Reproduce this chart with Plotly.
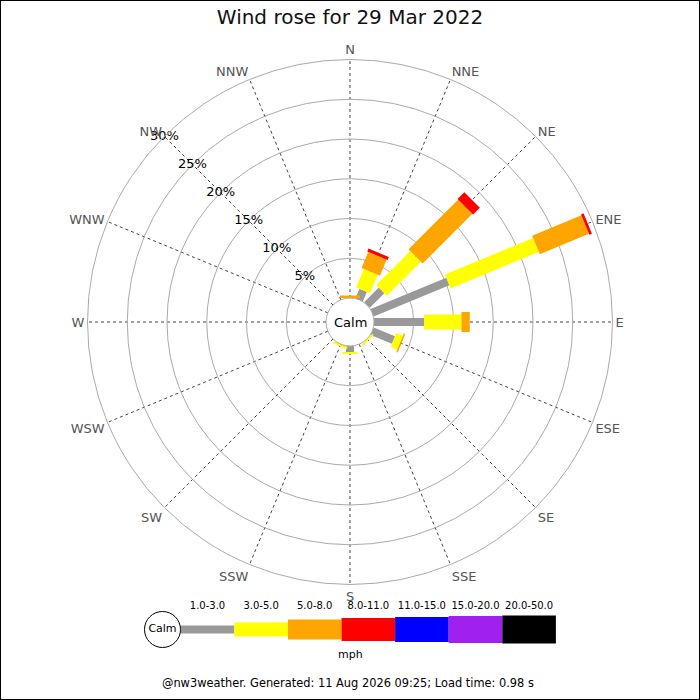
import math
import plotly.graph_objects as go

# --- data (percent of time per direction and speed band) ---
directions = ["N", "NNE", "NE", "ENE", "E", "ESE", "SE", "SSE",
              "S", "SSW", "SW", "WSW", "W", "WNW", "NW", "NNW"]
speed_bins = ["1.0-3.0", "3.0-5.0", "5.0-8.0", "8.0-11.0",
              "11.0-15.0", "15.0-20.0", "20.0-50.0"]
pct_1_3 = [0, 1.3, 2.6, 10.3, 6.3, 2.9, 0, 0, 0.75, 0, 0, 0, 0, 0, 0, 0]
pct_3_5 = [0, 2.5, 6.05, 12.0, 4.7, 0.9, 0.25, 0, 0.25, 0.25, 0, 0, 0, 0, 0, 0]
pct_5_8 = [0.3, 2.2, 8.85, 6.7, 1.05, 0.2, 0, 0, 0, 0, 0, 0, 0, 0, 0, 0]
pct_8_11 = [0, 0.4, 1.2, 0.35, 0, 0, 0, 0, 0, 0, 0, 0, 0, 0, 0, 0]
pct_11_15 = [0] * 16
pct_15_20 = [0] * 16
pct_20_50 = [0] * 16
radial_ticks = [5, 10, 15, 20, 25, 30]
radial_labels = ["5%", "10%", "15%", "20%", "25%", "30%"]

series = [pct_1_3, pct_3_5, pct_5_8, pct_8_11, pct_11_15, pct_15_20, pct_20_50]
colors = ["#999999", "#ffff00", "#ffa500", "#ff0000", "#0000ff", "#a020f0", "#000000"]
widths = [8, 15, 20, 22, 25, 27, 28]       # bar thickness in the rose (px)
key_widths = [8, 14, 20, 23, 25, 27, 28]   # bar thickness in the key (px)

# --- geometry of the rose (px) ---
W = H = 700
CX, CY = 350, 322
R_PX = 262.5
HOLE_PX = 24
R_MAX = 30
K = (R_PX - HOLE_PX) / R_MAX   # px per percent
angles = [i * 22.5 for i in range(16)]


def to_r(px):
    return (px - HOLE_PX) / K


fig = go.Figure()

# stacked rectangular bars, drawn per speed band
cum = [0.0] * 16
for s, vals in enumerate(series):
    rr, tt = [], []
    h = widths[s] / 2
    for i, v in enumerate(vals):
        if v > 0:
            d0 = HOLE_PX + cum[i] * K
            d1 = HOLE_PX + (cum[i] + v) * K
            for d, y in [(d0, -h), (d1, -h), (d1, h), (d0, h), (d0, -h)]:
                rr.append(to_r(math.hypot(d, y)))
                tt.append(angles[i] + math.degrees(math.atan2(y, d)))
            rr.append(None)
            tt.append(None)
        cum[i] += v
    if rr:
        fig.add_trace(go.Scatterpolar(
            r=rr, theta=tt, mode="lines", fill="toself",
            fillcolor=colors[s], line=dict(width=0, color=colors[s]),
            hoverinfo="skip", showlegend=False
        ))

# radial tick labels along the NW spoke
fig.add_trace(go.Scatterpolar(
    r=radial_ticks, theta=[315] * len(radial_ticks), mode="text",
    text=radial_labels, textfont=dict(size=13, color="black"),
    cliponaxis=False, hoverinfo="skip", showlegend=False
))

dom_x = [(CX - R_PX) / W, (CX + R_PX) / W]
dom_y = [1 - (CY + R_PX) / H, 1 - (CY - R_PX) / H]

fig.update_layout(
    polar=dict(
        domain=dict(x=dom_x, y=dom_y),
        hole=HOLE_PX / R_PX,
        bgcolor="white",
        radialaxis=dict(range=[0, R_MAX], tickvals=[0] + radial_ticks,
                        showticklabels=False, ticks="", showline=False,
                        gridcolor="#aaaaaa", gridwidth=1),
        angularaxis=dict(rotation=90, direction="clockwise",
                         tickvals=angles, ticktext=directions, ticks="",
                         tickfont=dict(size=13, color="#555555"),
                         showline=True, linecolor="#aaaaaa", linewidth=1,
                         gridcolor="#444444", griddash="dot", gridwidth=1)
    )
)

# --- speed key at the bottom (px-based cartesian axes) ---
KEY_Y = 629.5
KEY_X0 = 180.7
KEY_STEP = 53.6
for s in range(len(speed_bins)):
    fig.add_trace(go.Bar(
        x=[KEY_STEP], y=[KEY_Y], base=[KEY_X0 + s * KEY_STEP],
        width=[key_widths[s]], orientation="h",
        marker=dict(color=colors[s], line=dict(width=0)),
        xaxis="x", yaxis="y", hoverinfo="skip", showlegend=False
    ))
fig.add_trace(go.Scatter(
    x=[KEY_X0 + (s + 0.5) * KEY_STEP for s in range(len(speed_bins))],
    y=[606.5] * len(speed_bins), mode="text", text=speed_bins,
    textfont=dict(size=10, color="black"), hoverinfo="skip", showlegend=False
))
fig.add_trace(go.Scatter(
    x=[162.5], y=[KEY_Y], mode="markers+text", text=["Calm"],
    marker=dict(size=36, color="white", line=dict(width=1, color="black")),
    textfont=dict(size=11, color="black"), hoverinfo="skip", showlegend=False
))

fig.update_layout(
    barmode="overlay",
    xaxis=dict(domain=[0, 1], range=[0, W], visible=False, fixedrange=True),
    yaxis=dict(domain=[0, 110 / H], range=[H, H - 110], visible=False, fixedrange=True),
    width=W, height=H,
    margin=dict(l=0, r=0, t=0, b=0),
    paper_bgcolor="white", plot_bgcolor="rgba(0,0,0,0)",
    font=dict(family="DejaVu Sans", color="black"),
    title=dict(text="Wind rose for 29 Mar 2022", x=0.5, xanchor="center",
               y=1 - 17 / H, yanchor="middle", font=dict(size=20, color="#111111")),
    annotations=[
        dict(text="Calm", x=CX / W, y=1 - CY / H, xref="paper", yref="paper",
             showarrow=False, font=dict(size=13, color="black")),
        dict(text="mph", x=350, y=654, xref="x", yref="y",
             showarrow=False, font=dict(size=11, color="black")),
        dict(text="@nw3weather. Generated: 11 Aug 2026 09:25; Load time: 0.98 s",
             x=348 / W, y=1 - 692 / H, xref="paper", yref="paper", showarrow=False,
             font=dict(size=11.4, color="black")),
    ],
    shapes=[dict(type="rect", xref="paper", yref="paper", x0=0, y0=0, x1=1, y1=1,
                 line=dict(color="black", width=2))],
    showlegend=False
)

fig.write_html("out.html", config={"displayModeBar": False},
               post_script="document.body.style.margin='0';")
